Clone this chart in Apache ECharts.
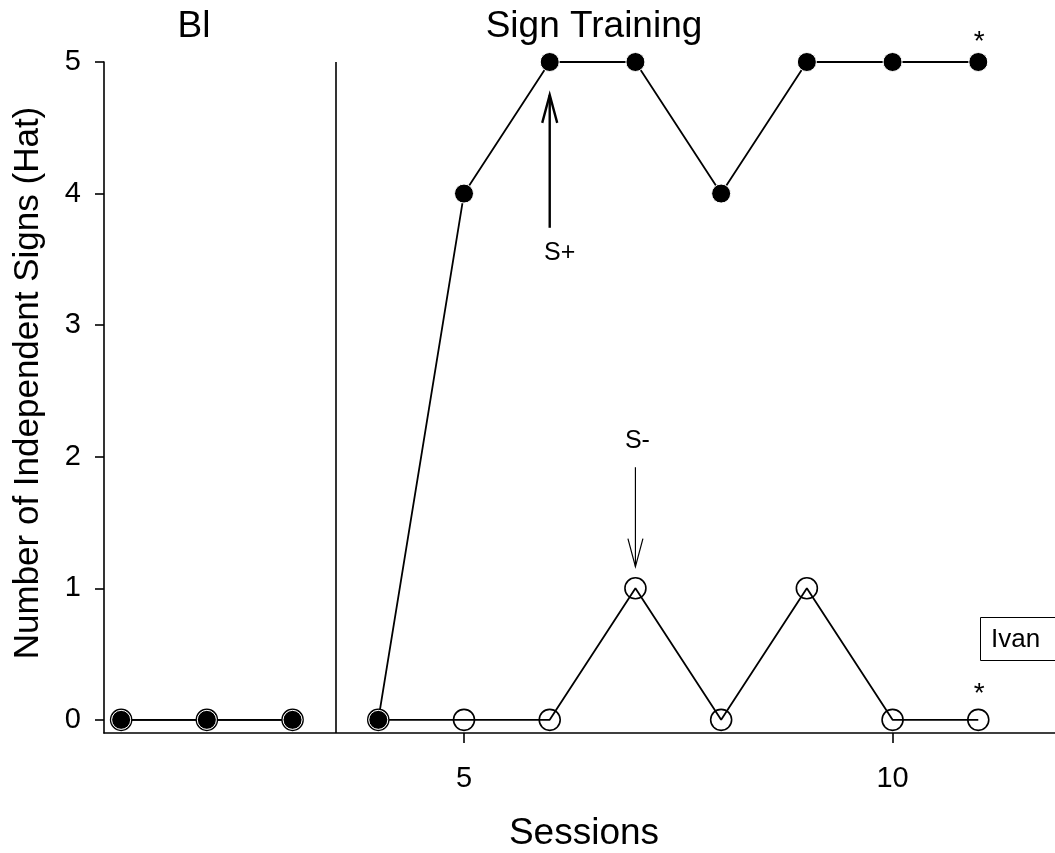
<!DOCTYPE html>
<html>
<head>
<meta charset="utf-8">
<script src="https://cdn.jsdelivr.net/npm/echarts@6/dist/echarts.min.js"></script>
<style>
html,body{margin:0;padding:0;background:#fff;}
#chart{width:1055px;height:853px;}
</style>
</head>
<body>
<div id="chart"></div>
<script>
// ---- data ----
const sessions = [1, 2, 3, 4, 5, 6, 7, 8, 9, 10, 11];
const lastBaselineSession = 3;
const signsSPlus  = [0, 0, 0, 0, 4, 5, 5, 4, 5, 5, 5];
const signsSMinus = [0, 0, 0, 0, 0, 0, 1, 0, 1, 0, 0];
const xTickLabels = [5, 10];
const yTickLabels = [0, 1, 2, 3, 4, 5];
const phaseLine = 3.5;
const phaseNames = ['Bl', 'Sign Training'];
const participant = 'Ivan';
const yTitle = 'Number of Independent Signs (Hat)';

const FONT = '"Liberation Sans", Arial, Helvetica, sans-serif';

function buildSeries(vals) {
  const out = [];
  sessions.forEach((s, i) => {
    out.push([s, vals[i]]);
    if (s === lastBaselineSession) out.push([phaseLine, null]);
  });
  return out;
}

const chart = echarts.init(document.getElementById('chart'), null, {renderer: 'canvas'});

chart.setOption({
  animation: false,
  backgroundColor: '#fff',
  grid: {left: 104, top: 62, bottom: 120, right: -9, containLabel: false, outerBoundsMode: 'none'},
  xAxis: {
    type: 'value', min: 0.8, max: 12,
    name: 'Sessions', nameLocation: 'middle', nameGap: 82,
    nameTextStyle: {fontFamily: FONT, fontSize: 37, color: '#000'},
    axisLine: {show: true, onZero: false, lineStyle: {color: '#000', width: 1.6}},
    axisTick: {show: true, length: 10, lineStyle: {color: '#000', width: 1.6}, customValues: xTickLabels},
    axisLabel: {show: true, margin: 31, fontFamily: FONT, fontSize: 29, color: '#000', customValues: xTickLabels},
    splitLine: {show: false}
  },
  yAxis: {
    type: 'value', min: -0.1, max: 5,
    axisLine: {show: true, onZero: false, lineStyle: {color: '#000', width: 1.6}},
    axisTick: {show: true, length: 9, lineStyle: {color: '#000', width: 1.6}, customValues: yTickLabels},
    axisLabel: {show: true, margin: 23, fontFamily: FONT, fontSize: 29, color: '#000', customValues: yTickLabels},
    splitLine: {show: false}
  },
  series: [
    {
      name: 'S-', type: 'line', data: buildSeries(signsSMinus), connectNulls: false,
      symbol: 'circle', symbolSize: 21, showAllSymbol: true, z: 2,
      lineStyle: {color: '#000', width: 1.8},
      itemStyle: {color: 'rgba(0,0,0,0)', borderColor: '#000', borderWidth: 1.6},
      markLine: {
        silent: true, symbol: ['none', 'none'], label: {show: false},
        lineStyle: {color: '#000', width: 1.6, type: 'solid'},
        data: [{xAxis: phaseLine}]
      }
    },
    {
      name: 'S+', type: 'line', data: buildSeries(signsSPlus), connectNulls: false,
      symbol: 'circle', symbolSize: 19, showAllSymbol: true, z: 3,
      lineStyle: {color: '#000', width: 1.8},
      itemStyle: {color: '#000', borderColor: '#fff', borderWidth: 1}
    }
  ]
});

// ---- annotations (data coordinates) ----
const arrows = [
  {label: 'S+', x: 6, from: 3.74, to: 4.75, width: 2.4, labelY: 3.55},
  {label: 'S-', x: 7, from: 1.92, to: 1.165, width: 1.2, labelY: 2.12}
];
const asterisks = [[11, 5], [11, 0]];

const g = [];
arrows.forEach(a => {
  const p0 = chart.convertToPixel({gridIndex: 0}, [a.x, a.from]);
  const p1 = chart.convertToPixel({gridIndex: 0}, [a.x, a.to]);
  const dir = p1[1] < p0[1] ? 1 : -1; // 1 -> pointing up
  const headLen = 28, headW = 7.5;
  g.push({type: 'line', shape: {x1: p0[0], y1: p0[1], x2: p1[0], y2: p1[1]}, style: {stroke: '#000', lineWidth: a.width}});
  g.push({type: 'polyline', shape: {points: [[p1[0] - headW, p1[1] + dir * headLen], [p1[0], p1[1]], [p1[0] + headW, p1[1] + dir * headLen]]}, style: {stroke: '#000', lineWidth: a.width, fill: null}});
  const pl = chart.convertToPixel({gridIndex: 0}, [a.x, a.labelY]);
  g.push({type: 'text', x: pl[0] + (a.label === 'S+' ? 10 : 2), y: pl[1], style: {text: a.label, fontFamily: FONT, fontSize: 25, fill: '#000', align: 'center', verticalAlign: 'middle'}});
});
asterisks.forEach((s, i) => {
  const p = chart.convertToPixel({gridIndex: 0}, s);
  g.push({type: 'text', x: p[0] + 1, y: p[1] - (i === 0 ? 20 : 26), style: {text: '*', fontFamily: FONT, fontSize: 28, fill: '#000', align: 'center', verticalAlign: 'middle'}});
});
// y-axis title
g.push({type: 'text', x: 28, y: 383, rotation: Math.PI / 2, style: {text: yTitle, fontFamily: FONT, fontSize: 35, fill: '#000', align: 'center', verticalAlign: 'middle'}});
// phase titles
g.push({type: 'text', x: 194, y: 27, style: {text: phaseNames[0], fontFamily: FONT, fontSize: 37, fill: '#000', align: 'center', verticalAlign: 'middle'}});
g.push({type: 'text', x: 594, y: 27, style: {text: phaseNames[1], fontFamily: FONT, fontSize: 37, fill: '#000', align: 'center', verticalAlign: 'middle'}});
// participant box
g.push({type: 'rect', shape: {x: 980.5, y: 617.5, width: 100, height: 43}, style: {stroke: '#000', lineWidth: 1, fill: '#fff'}});
g.push({type: 'text', x: 991, y: 640, style: {text: participant, fontFamily: FONT, fontSize: 26, fill: '#000', align: 'left', verticalAlign: 'middle'}});

chart.setOption({graphic: {elements: g}});
</script>
</body>
</html>
